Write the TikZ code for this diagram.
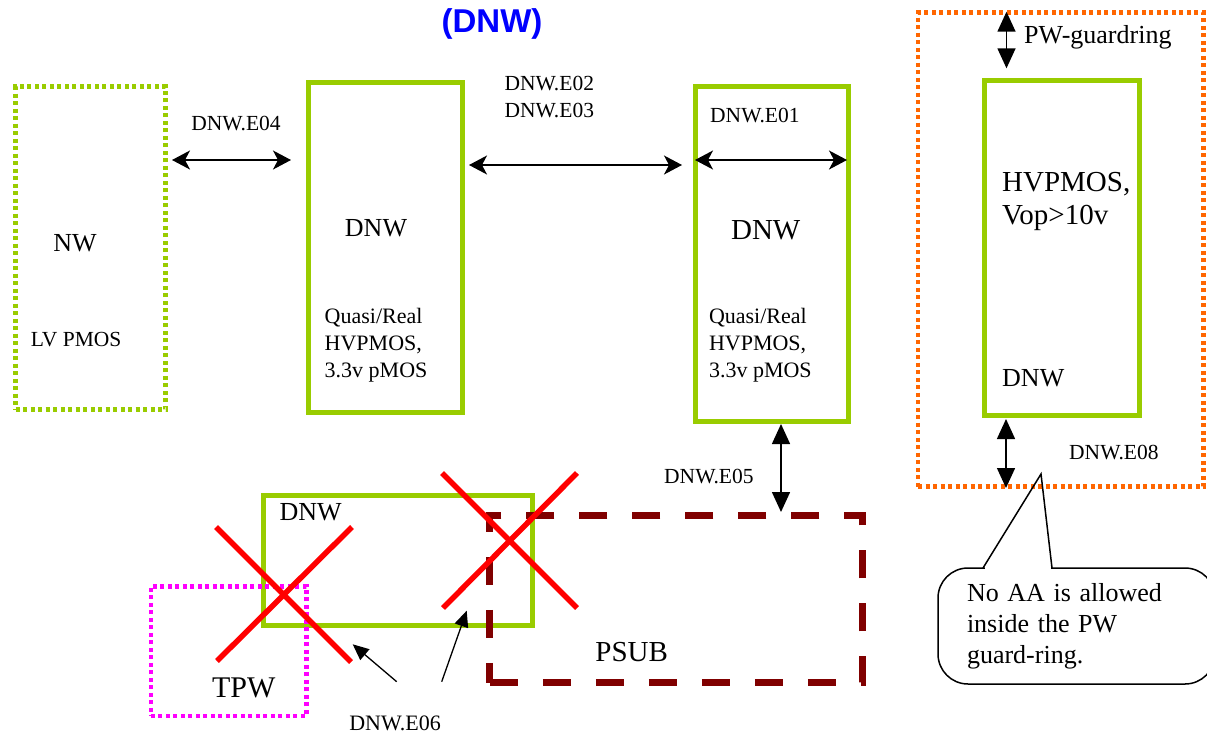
\documentclass[tikz,border=0pt]{standalone}
\usepackage{fontspec}
\setmainfont{Liberation Serif}
\newfontfamily\headfont{Liberation Sans}
\usepackage{tikz}
\usetikzlibrary{arrows.meta}
\definecolor{WellGreen}{RGB}{153,204,0}
\definecolor{GuardOrange}{RGB}{255,102,0}
\definecolor{TPWMagenta}{RGB}{255,0,255}
\definecolor{SubRed}{RGB}{128,0,0}
\definecolor{CrossRed}{RGB}{255,0,0}
\definecolor{TitleBlue}{RGB}{0,0,255}
\tikzset{
  wbox/.style={draw=WellGreen,line width=5pt,inner sep=0pt,outer sep=0pt},
  dotbox/.style={line width=4.5pt,dash pattern=on 4pt off 3.5pt,inner sep=0pt,outer sep=0pt},
  subbox/.style={draw=SubRed,line width=7pt,dash pattern=on 28pt off 25pt,inner sep=0pt,outer sep=0pt},
  slbl/.style={font=\fontsize{21.5}{27}\selectfont,inner sep=0pt,align=left},
  mlbl/.style={font=\fontsize{26}{31}\selectfont,inner sep=0pt,align=left},
  blbl/.style={font=\fontsize{29}{33}\selectfont,inner sep=0pt,align=left},
  harr/.style={{Stealth[length=18pt,width=19pt,inset=5pt]}-{Stealth[length=18pt,width=19pt,inset=5pt]},line width=1.5pt},
  varr/.style={{Triangle[length=20pt,width=18pt]}-{Triangle[length=20pt,width=18pt]},line width=1.5pt},
  parr/.style={-{Triangle[length=16pt,width=14pt]},line width=1.3pt},
  xcross/.style={CrossRed,line width=5.5pt},
  note/.style={draw,line width=1.5pt,fill=white,rounded corners=30pt,minimum width=277pt,minimum height=116pt,
    text width=219pt,inner xsep=29pt,align=left,font=\fontsize{26}{31}\selectfont},
}
\begin{document}
\begin{tikzpicture}[x=1pt,y=-1pt]
  \useasboundingbox (0,0) rectangle (1207,737);
  \node[font=\headfont\bfseries\fontsize{33}{37}\selectfont,text=TitleBlue] (title) at (492,24) {(DNW)};

  % wells
  \node[dotbox,draw=WellGreen,minimum width=150pt,minimum height=323pt] (nw) at (90.5,248) {};
  \node[wbox,minimum width=154pt,minimum height=330pt] (dnwA) at (385.5,247.5) {};
  \node[wbox,minimum width=153.5pt,minimum height=335pt] (dnwB) at (772,254) {};
  \node[dotbox,draw=GuardOrange,minimum width=285.5pt,minimum height=474pt] (guard) at (1060.75,249.5) {};
  \node[wbox,minimum width=154.5pt,minimum height=335pt] (hvp) at (1062,248) {};
  \node[wbox,minimum width=269.5pt,minimum height=130pt] (dnwC) at (398,560) {};
  \node[subbox,minimum width=372.5pt,minimum height=167.5pt] (psub) at (676,599) {};
  \node[dotbox,draw=TPWMagenta,minimum width=155.7pt,minimum height=129.5pt] (tpw) at (228.6,651) {};

  % texts
  \node[mlbl] (nwtxt) at (75,243) {NW};
  \node[slbl,anchor=west] (lvtxt) at (30.6,340) {LV PMOS};
  \node[mlbl] (dnwAtxt) at (376,228) {DNW};
  \node[slbl,font=\fontsize{22}{27}\selectfont,anchor=west] (qA) at (324.5,345) {Quasi/Real\\HVPMOS,\\3.3v pMOS};
  \node[blbl] (dnwBtxt) at (765.7,230) {DNW};
  \node[slbl,font=\fontsize{22}{27}\selectfont,anchor=west] (qB) at (708.8,345) {Quasi/Real\\HVPMOS,\\3.3v pMOS};
  \node[blbl,anchor=west] (hvtxt) at (1002,201.5) {HVPMOS,\\Vop>10v};
  \node[mlbl,anchor=west] (dnwHtxt) at (1002,378) {DNW};
  \node[mlbl,anchor=west] (pwtxt) at (1024,37) {PW-guardring};
  \node[mlbl] (dnwCtxt) at (310.7,511.7) {DNW};
  \node[font=\fontsize{30}{34}\selectfont,inner sep=0pt] (tpwtxt) at (243.7,688) {TPW};
  \node[blbl] (psubtxt) at (631.7,651.7) {PSUB};

  % rule labels
  \node[slbl] (e04) at (236,124) {DNW.E04};
  \node[slbl,anchor=west] (e0203) at (504.4,96.7) {DNW.E02\\DNW.E03};
  \node[slbl,anchor=west] (e01) at (710,116) {DNW.E01};
  \node[slbl,anchor=west] (e05) at (664,476.7) {DNW.E05};
  \node[slbl,anchor=west] (e08) at (1069,453) {DNW.E08};
  \node[slbl,font=\fontsize{22}{27}\selectfont] (e06) at (395,723) {DNW.E06};

  % arrow ends
  \coordinate (e04l) at (172,160);   \coordinate (e04r) at (291,160);
  \coordinate (e02l) at (469,165);   \coordinate (e02r) at (682,165);
  \coordinate (e01l) at (695,160);   \coordinate (e01r) at (847,160);
  \coordinate (pwt) at (1006.5,11.7); \coordinate (pwb) at (1006.5,68.3);
  \coordinate (e08t) at (1006,419);  \coordinate (e08b) at (1006,488);
  \coordinate (e05t) at (781,424);   \coordinate (e05b) at (781,512);
  \coordinate (e06a) at (396.7,681.7); \coordinate (e06ta) at (352.7,644.3);
  \coordinate (e06b) at (441.7,681.7); \coordinate (e06tb) at (466.7,610.7);

  \draw[harr] (e04l) -- (e04r);
  \draw[harr] (e02l) -- (e02r);
  \draw[harr] (e01l) -- (e01r);
  \draw[varr] (pwt) -- (pwb);
  \draw[varr] (e08t) -- (e08b);
  \draw[varr] (e05t) -- (e05b);
  \draw[parr] (e06a) -- (e06ta);
  \draw[parr] (e06b) -- (e06tb);

  % not allowed
  \draw[xcross] (216,527) -- (351,662);
  \draw[xcross] (217,661) -- (352,527);
  \draw[xcross] (442,473) -- (577,608);
  \draw[xcross] (443,608) -- (577,473);

  % callout
  \node[note] (note) at (1076.5,626) {No AA is allowed\\inside the PW\\guard-ring.};
  \coordinate (tip) at (1041,474);
  \coordinate (pl) at (983,568);
  \coordinate (pr) at (1052,568);
  \fill[white] (985,566) rectangle (1050.5,570);
  \draw[line width=1.5pt,line join=miter] (pl) -- (tip) -- (pr);
\end{tikzpicture}
\end{document}
